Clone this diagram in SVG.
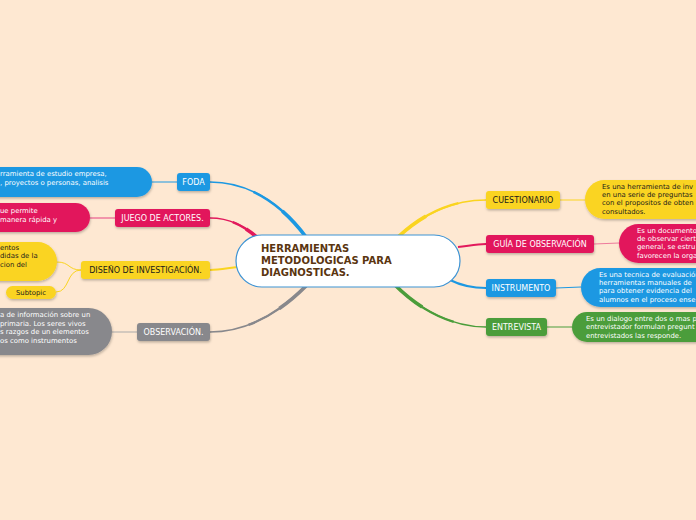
<svg xmlns="http://www.w3.org/2000/svg" width="696" height="520" viewBox="0 0 696 520">
<defs>
<filter id="sh" x="-20%" y="-20%" width="140%" height="160%">
<feDropShadow dx="0.5" dy="1.5" stdDeviation="1" flood-color="#000" flood-opacity="0.25"/>
</filter>
<style>
.t{font-family:"DejaVu Sans","Verdana",sans-serif;font-size:8px;}
.s{font-family:"DejaVu Sans","Verdana",sans-serif;font-size:6.9px;}
.w{fill:#ffffff;}
.k{fill:#1a1a1a;}
.c{text-anchor:middle;}
.blue{fill:#1c98e2;}
.pink{fill:#e2195c;}
.yel{fill:#fad420;}
.gray{fill:#88888c;}
.grn{fill:#4b9d3a;}
.conn path,.conn use,.conn g{fill:none;}
.a{stroke-width:1.4;}
.b{stroke-width:2.4;stroke-dasharray:70 1000;}
.d{stroke-width:3.6;stroke-dasharray:35 1000;}
</style>
<path id="pFoda" fill="none" d="M306,237 C282,205 250,182 210,182"/>
<path id="pJuego" fill="none" d="M258,238 C244,226 230,218 210,218"/>
<path id="pObs" fill="none" d="M306,286 C280,312 248,332 210,332"/>
<path id="pCue" fill="none" d="M398,237 C422,215 450,200 486,200"/>
<path id="pEnt" fill="none" d="M395,285 C420,310 452,327 486,327"/>
</defs>
<rect x="0" y="0" width="696" height="520" fill="#fee8d2"/>

<g id="connectors" class="conn">
<g stroke="#1c98e2"><use href="#pFoda" class="a"/><use href="#pFoda" class="b"/><use href="#pFoda" class="d"/></g>
<g stroke="#e2195c"><use href="#pJuego" class="a"/><use href="#pJuego" class="b" style="stroke-dasharray:30 1000"/><use href="#pJuego" class="d" style="stroke-dasharray:15 1000"/></g>
<path d="M238,267 C228,268 220,270 210,270" stroke="#fad420" stroke-width="2"/>
<g stroke="#88888c"><use href="#pObs" class="a"/><use href="#pObs" class="b"/><use href="#pObs" class="d"/></g>
<g stroke="#fad420"><use href="#pCue" class="a"/><use href="#pCue" class="b"/><use href="#pCue" class="d"/></g>
<path d="M458,247 C468,246 476,244 486,244" stroke="#e2195c" stroke-width="2"/>
<path d="M450,280 C462,286 472,288 486,288" stroke="#1c98e2" stroke-width="2"/>
<g stroke="#4b9d3a"><use href="#pEnt" class="a"/><use href="#pEnt" class="b"/><use href="#pEnt" class="d"/></g>
<path d="M177,182 L152,182" stroke="#1c98e2" stroke-width="1"/>
<path d="M115,218 L90,218" stroke="#ee7a9c" stroke-width="1.5"/>
<path d="M81,270 C68,270 70,262 57,262" stroke="#fad420" stroke-width="1"/>
<path d="M81,270 C66,270 70,292 56,292" stroke="#fad420" stroke-width="1"/>
<path d="M137,332 L112,332" stroke="#aaaaaa" stroke-width="1"/>
<path d="M560,200 L585,200" stroke="#fad420" stroke-width="1"/>
<path d="M594,244 L619,243" stroke="#ee7a9c" stroke-width="1"/>
<path d="M556,288 L581,287" stroke="#1c98e2" stroke-width="1"/>
<path d="M547,327 L572,327" stroke="#4b9d3a" stroke-width="1"/>
</g>

<g id="central">
<rect x="236" y="235" width="224" height="52" rx="26" fill="#ffffff" stroke="#3d93d4" stroke-width="1.2"/>
<text font-family="DejaVu Sans, Verdana, sans-serif" font-size="10" font-weight="bold" fill="#5a3510">
<tspan x="261" y="252">HERRAMIENTAS</tspan>
<tspan x="261" y="264">METODOLOGICAS PARA</tspan>
<tspan x="261" y="276">DIAGNOSTICAS.</tspan>
</text>
</g>

<g id="foda">
<rect class="blue" x="177" y="173" width="33" height="18" rx="3" filter="url(#sh)"/>
<text class="t w c" x="193.5" y="185">FODA</text>
</g>
<g id="foda-desc">
<rect class="blue" x="-40" y="167" width="192" height="30" rx="15" filter="url(#sh)"/>
<text class="s w"><tspan x="0" y="176">rramienta de estudio empresa,</tspan><tspan x="0" y="185">, proyectos o personas, analisis</tspan></text>
</g>

<g id="juego">
<rect class="pink" x="115" y="209" width="95" height="18" rx="3" filter="url(#sh)"/>
<text class="t w c" x="162.5" y="221">JUEGO DE ACTORES.</text>
</g>
<g id="juego-desc">
<rect class="pink" x="-40" y="203" width="130" height="29" rx="14.5" filter="url(#sh)"/>
<text class="s w"><tspan x="0" y="213">ue permite</tspan><tspan x="0" y="222">manera rápida y</tspan></text>
</g>

<g id="diseno">
<rect class="yel" x="81" y="261" width="129" height="18" rx="3" filter="url(#sh)"/>
<text class="t k c" x="145.5" y="273">DISEÑO DE INVESTIGACIÓN.</text>
</g>
<g id="diseno-desc">
<rect class="yel" x="-40" y="242" width="97" height="39" rx="19.5" filter="url(#sh)"/>
<text class="s k"><tspan x="0" y="250">entos</tspan><tspan x="0" y="258">didas de la</tspan><tspan x="0" y="267">cion del</tspan></text>
</g>
<g id="subtopic">
<rect class="yel" x="6" y="286" width="50" height="13" rx="6.5" filter="url(#sh)"/>
<text class="s k c" x="31" y="295">Subtopic</text>
</g>

<g id="observacion">
<rect class="gray" x="137" y="323" width="73" height="18" rx="3" filter="url(#sh)"/>
<text class="t w c" x="173.5" y="335">OBSERVACIÓN.</text>
</g>
<g id="observacion-desc">
<rect class="gray" x="-40" y="308" width="152" height="47" rx="23.5" filter="url(#sh)"/>
<text class="s w"><tspan x="0" y="317">a de información sobre un</tspan><tspan x="0" y="326">primaria. Los seres vivos</tspan><tspan x="0" y="334">s razgos de un elementos</tspan><tspan x="0" y="343">os como instrumentos</tspan></text>
</g>

<g id="cuestionario">
<rect class="yel" x="486" y="191" width="74" height="18" rx="3" filter="url(#sh)"/>
<text class="t k c" x="523" y="203">CUESTIONARIO</text>
</g>
<g id="cuestionario-desc">
<rect class="yel" x="585" y="180" width="160" height="39" rx="19.5" filter="url(#sh)"/>
<text class="s k"><tspan x="602" y="189">Es una herramienta de inv</tspan><tspan x="602" y="197">en una serie de preguntas</tspan><tspan x="602" y="205">con el propositos de obten</tspan><tspan x="602" y="214">consultados.</tspan></text>
</g>

<g id="guia">
<rect class="pink" x="486" y="235" width="108" height="18" rx="3" filter="url(#sh)"/>
<text class="t w c" x="540" y="247">GUÍA DE OBSERVACIÓN</text>
</g>
<g id="guia-desc">
<rect class="pink" x="619" y="224" width="130" height="39" rx="19.5" filter="url(#sh)"/>
<text class="s w"><tspan x="637" y="233">Es un documento</tspan><tspan x="637" y="241">de observar ciert</tspan><tspan x="637" y="249">general, se estru</tspan><tspan x="637" y="258">favorecen la orga</tspan></text>
</g>

<g id="instrumento">
<rect class="blue" x="486" y="279" width="70" height="18" rx="3" filter="url(#sh)"/>
<text class="t w c" x="521" y="291">INSTRUMENTO</text>
</g>
<g id="instrumento-desc">
<rect class="blue" x="581" y="268" width="160" height="39" rx="19.5" filter="url(#sh)"/>
<text class="s w"><tspan x="599" y="277">Es una tecnica de evaluación</tspan><tspan x="599" y="285">herramientas manuales de</tspan><tspan x="599" y="293">para obtener evidencia del</tspan><tspan x="599" y="302">alumnos en el proceso ense</tspan></text>
</g>

<g id="entrevista">
<rect class="grn" x="486" y="318" width="61" height="18" rx="3" filter="url(#sh)"/>
<text class="t w c" x="516.5" y="330">ENTREVISTA</text>
</g>
<g id="entrevista-desc">
<rect class="grn" x="572" y="312" width="170" height="30" rx="15" filter="url(#sh)"/>
<text class="s w"><tspan x="586" y="321">Es un dialogo entre dos o mas p</tspan><tspan x="586" y="329">entrevistador formulan pregunt</tspan><tspan x="586" y="338">entrevistados las responde.</tspan></text>
</g>
</svg>
